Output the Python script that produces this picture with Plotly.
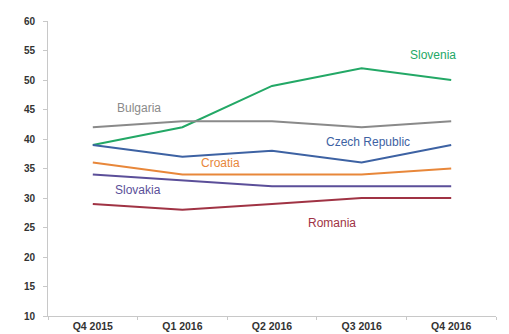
import plotly.graph_objects as go

quarters = ["Q4 2015", "Q1 2016", "Q2 2016", "Q3 2016", "Q4 2016"]
slovenia = [39, 42, 49, 52, 50]
bulgaria = [42, 43, 43, 42, 43]
czech = [39, 37, 38, 36, 39]
croatia = [36, 34, 34, 34, 35]
slovakia = [34, 33, 32, 32, 32]
romania = [29, 28, 29, 30, 30]
y_ticks = [10, 15, 20, 25, 30, 35, 40, 45, 50, 55, 60]

series = [
    ("Slovenia", slovenia, "#23a866"),
    ("Bulgaria", bulgaria, "#8a8a8a"),
    ("Czech Republic", czech, "#3d62a3"),
    ("Croatia", croatia, "#e8873a"),
    ("Slovakia", slovakia, "#5b4f99"),
    ("Romania", romania, "#a03344"),
]

# label positions (category index, value)
labels = {
    "Slovenia": (3.8, 54.2),
    "Bulgaria": (0.51, 45.2),
    "Czech Republic": (3.07, 39.5),
    "Croatia": (1.43, 35.9),
    "Slovakia": (0.5, 31.4),
    "Romania": (2.67, 25.8),
}

fig = go.Figure()
for name, vals, color in series:
    fig.add_trace(go.Scatter(x=list(range(len(quarters))), y=vals, mode="lines",
                             line=dict(color=color, width=2), name=name,
                             showlegend=False))
    lx, ly = labels[name]
    fig.add_annotation(x=lx, y=ly, text=name, showarrow=False,
                       font=dict(color=color, size=12, family="Arial"),
                       xanchor="center", yanchor="middle")

fig.update_layout(
    width=501, height=326,
    margin=dict(l=40, r=13, t=13, b=18),
    plot_bgcolor="white", paper_bgcolor="white",
    font=dict(family="Arial", size=10, color="#333333"),
)
fig.update_xaxes(range=[-0.5, 4.5], tickmode="array",
                 tickvals=list(range(len(quarters))),
                 ticktext=["<b>%s</b>" % q for q in quarters],
                 showgrid=False, zeroline=False, showline=True,
                 linecolor="#c8c8c8", linewidth=1, ticks="", ticklen=0,
                 minor=dict(ticks="outside", tick0=-0.5, dtick=1, ticklen=3,
                            tickcolor="#c8c8c8", showgrid=False),
                 automargin=False, tickfont=dict(size=10.5))
fig.update_yaxes(range=[10, 60], tickmode="array", tickvals=y_ticks,
                 ticktext=["<b>%d</b>" % v for v in y_ticks],
                 showgrid=False, zeroline=False, showline=True,
                 linecolor="#c8c8c8", linewidth=1, ticks="outside",
                 ticklen=4, tickcolor="#c8c8c8", automargin=False,
                 ticklabelstandoff=6, tickfont=dict(size=10))
fig.write_html("out.html")
